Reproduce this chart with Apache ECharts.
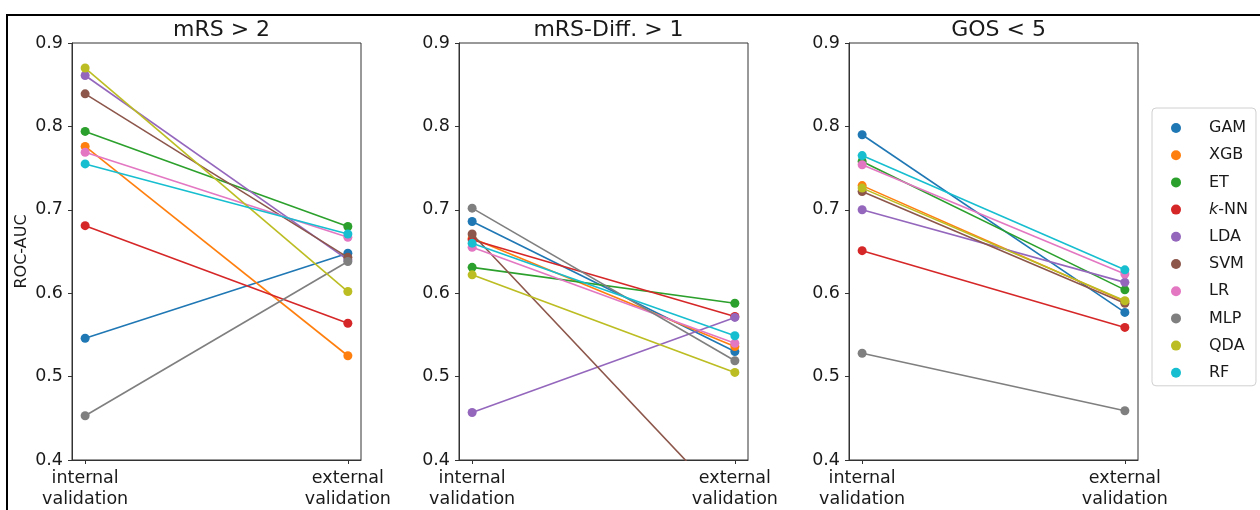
<!DOCTYPE html>
<html><head><meta charset="utf-8">
<script src="https://cdn.jsdelivr.net/npm/echarts@6/dist/echarts.min.js"></script>
<style>html,body{margin:0;padding:0;background:#fff}#c{width:1260px;height:510px}</style>
</head><body><div id="c"></div>
<script>
const models = ['GAM','XGB','ET','k-NN','LDA','SVM','LR','MLP','QDA','RF'];
const colors = ['#1f77b4','#ff7f0e','#2ca02c','#d62728','#9467bd','#8c564b','#e377c2','#7f7f7f','#bcbd22','#17becf'];
const xLabels = ['internal\nvalidation','external\nvalidation'];
const yTicks = [0.4,0.5,0.6,0.7,0.8,0.9];
const titles = ['mRS > 2','mRS-Diff. > 1','GOS < 5'];
// panel 1: mRS > 2
const mrsInternal = [0.546,0.776,0.794,0.681,0.861,0.839,0.769,0.453,0.870,0.755];
const mrsExternal = [0.648,0.525,0.680,0.564,0.640,0.643,0.667,0.638,0.602,0.671];
// panel 2: mRS-Diff. > 1
const diffInternal = [0.686,0.666,0.631,0.664,0.457,0.671,0.655,0.702,0.622,0.660];
const diffExternal = [0.530,0.536,0.588,0.572,0.571,0.337,0.540,0.519,0.505,0.549];
// panel 3: GOS < 5
const gosInternal = [0.790,0.729,0.758,0.651,0.700,0.722,0.754,0.528,0.726,0.765];
const gosExternal = [0.577,0.590,0.604,0.559,0.613,0.588,0.623,0.459,0.591,0.628];

const panels = [[mrsInternal,mrsExternal],[diffInternal,diffExternal],[gosInternal,gosExternal]];
const gridLefts = [72,459,849];
const gridW = 289, gridTop = 43, gridH = 421;
const font = 'DejaVu Sans';
const ink = '#1a1a1a';

const grids = [], xAxes = [], yAxes = [], series = [], titleList = [];
panels.forEach((p, pi) => {
  grids.push({left: gridLefts[pi], top: gridTop, width: gridW, height: gridH, show: true, borderColor: '#333', borderWidth: 1, backgroundColor: 'transparent'});
  xAxes.push({type: 'value', gridIndex: pi, min: -0.05, max: 1.05,
    axisLine: {show: true, onZero: false, lineStyle: {color: '#333', width: 1}},
    axisTick: {show: true, length: 4, customValues: [0,1], lineStyle: {color: '#333'}},
    axisLabel: {customValues: [0,1], formatter: v => xLabels[Math.round(v)], margin: 8, fontFamily: font, fontSize: 17.5, color: ink, lineHeight: 21},
    splitLine: {show: false}});
  yAxes.push({type: 'value', gridIndex: pi, min: 0.4, max: 0.9, interval: 0.1,
    name: pi === 0 ? 'ROC-AUC' : '', nameLocation: 'middle', nameRotate: 90, nameGap: 42,
    nameTextStyle: {fontFamily: font, fontSize: 16, color: ink},
    axisLine: {show: true, onZero: false, lineStyle: {color: '#333', width: 1}},
    axisTick: {show: true, length: 4, lineStyle: {color: '#333'}},
    axisLabel: {margin: 9, fontFamily: font, fontSize: 17.5, color: ink, formatter: v => v.toFixed(1)},
    splitLine: {show: false}});
  titleList.push({text: titles[pi], left: gridLefts[pi] + gridW/2, top: 14, textAlign: 'center',
    textStyle: {fontFamily: font, fontSize: 22, fontWeight: 'normal', color: ink}});
  models.forEach((m, mi) => {
    series.push({type: 'line', name: m, xAxisIndex: pi, yAxisIndex: pi, clip: true,
      data: [[0, p[0][mi]], [1, p[1][mi]]],
      symbol: 'circle', symbolSize: 9, showSymbol: true,
      lineStyle: {width: 1.6, color: colors[mi]}, itemStyle: {color: colors[mi]},
      emphasis: {disabled: true}, animation: false, z: 2 + mi});
  });
});

const chart = echarts.init(document.getElementById('c'), null, {renderer: 'canvas'});
chart.setOption({
  animation: false,
  backgroundColor: '#fff',
  title: titleList,
  grid: grids, xAxis: xAxes, yAxis: yAxes, series: series,
  legend: {orient: 'vertical', left: 1152, top: 108, data: models.map(m => ({name: m, icon: 'circle'})),
    itemWidth: 10, itemHeight: 10, itemGap: 9.2, selectedMode: false,
    padding: [11, 8, 4, 19], borderColor: '#d0d0d0', borderWidth: 1, borderRadius: 4, backgroundColor: '#fff',
    formatter: n => n === 'k-NN' ? '{i|k}-NN' : n,
    textStyle: {fontFamily: font, fontSize: 16, color: ink, lineHeight: 18, padding: [0,0,0,23],
      rich: {i: {fontStyle: 'italic', fontFamily: font, fontSize: 16, color: ink, lineHeight: 18}}}},
  graphic: [{type: 'rect', shape: {x: 7, y: 15, width: 1400, height: 600}, style: {fill: 'none', stroke: '#000', lineWidth: 2}, z: 100, silent: true}]
});
</script></body></html>
